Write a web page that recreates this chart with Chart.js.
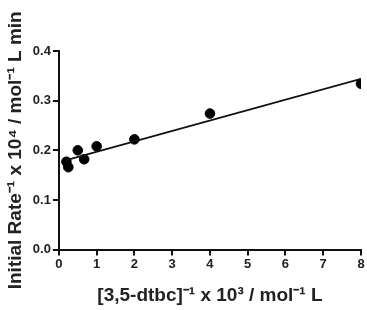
<!DOCTYPE html>
<html>
<head>
<meta charset="utf-8">
<script src="https://cdn.jsdelivr.net/npm/chart.js@4"></script>
<style>
  html, body { margin: 0; padding: 0; background: #fff; }
  #wrap { width: 367px; height: 310px; }
</style>
</head>
<body>
<div id="wrap"><canvas id="chart"></canvas></div>
<script>
const xValues = [0.2, 0.25, 0.5, 0.67, 1, 2, 4, 8];
const yValues = [0.177, 0.166, 0.200, 0.182, 0.208, 0.222, 0.274, 0.334];
const fitX = [0.2, 8];
const fitY = [0.180, 0.344];
const xTicks = [0, 1, 2, 3, 4, 5, 6, 7, 8];
const yTicks = [0, 0.1, 0.2, 0.3, 0.4];

const points = xValues.map((x, i) => ({x: x, y: yValues[i]}));
const fitLine = fitX.map((x, i) => ({x: x, y: fitY[i]}));

const font = "'Liberation Sans', Arial, sans-serif";

const axisStyle = {
    grid: {display: true, drawOnChartArea: false, drawTicks: true, tickLength: 6, color: "#111", lineWidth: 2},
    border: {display: true, color: "#111", width: 2},
};

new Chart(document.getElementById("chart"), {
    type: "scatter",
    data: {
        datasets: [
            {data: fitLine, showLine: true, borderColor: "#111", borderWidth: 1.8, pointRadius: 0, fill: false},
            {data: points, backgroundColor: "#000", borderColor: "#000", pointRadius: 4.8},
        ],
    },
    options: {
        responsive: true,
        maintainAspectRatio: false,
        animation: false,
        layout: {padding: {top: 51, right: 6, left: 4, bottom: 3}},
        plugins: {legend: {display: false}, tooltip: {enabled: false}},
        scales: {
            x: {
                type: "linear", min: 0, max: 8,
                ...axisStyle,
                afterBuildTicks: (axis) => { axis.ticks = xTicks.map(v => ({value: v})); },
                ticks: {color: "#222", font: {family: font, size: 13, weight: "bold"}, padding: 1, maxRotation: 0},
                title: {display: true, text: "[3,5-dtbc]\u207B\u00B9 x 10\u00B3 / mol\u207B\u00B9 L", color: "#222",
                    font: {family: font, size: 19, weight: "bold"}, padding: {top: 11, bottom: 0}},
            },
            y: {
                type: "linear", min: 0, max: 0.4,
                ...axisStyle,
                afterBuildTicks: (axis) => { axis.ticks = yTicks.map(v => ({value: v})); },
                ticks: {color: "#222", font: {family: font, size: 13, weight: "bold"}, padding: 2,
                    callback: (v) => v.toFixed(1)},
                title: {display: true, text: "Initial Rate\u207B\u00B9 x 10\u2074 / mol\u207B\u00B9 L min", color: "#222",
                    font: {family: font, size: 19, weight: "bold"}, padding: {top: 0, bottom: 4}},
            },
        },
    },
});
</script>
</body>
</html>
